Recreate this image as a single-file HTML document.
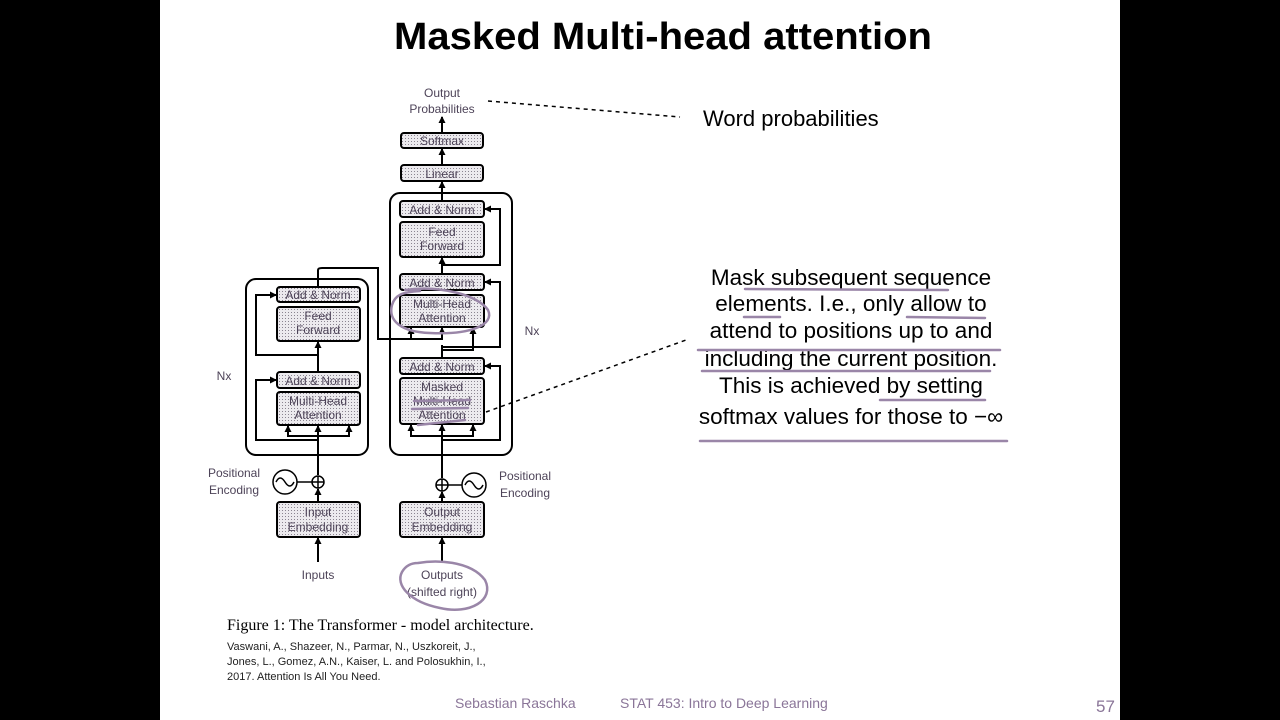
<!DOCTYPE html>
<html><head><meta charset="utf-8"><style>
html,body{margin:0;padding:0;background:#000;}
#s{position:absolute;left:160px;top:0;width:960px;height:720px;background:#fff;}
svg{position:absolute;left:0;top:0}
</style></head><body>
<div id="s"></div>
<svg width="1280" height="720" viewBox="0 0 1280 720" font-family="Liberation Sans, sans-serif">
<defs>
<pattern id="d" width="3" height="3" patternUnits="userSpaceOnUse"><rect width="3" height="3" fill="#eceaee"/><rect width="1" height="1" fill="#8a8490"/></pattern>
<marker id="a" markerUnits="userSpaceOnUse" markerWidth="7" markerHeight="7" refX="6" refY="3.5" orient="auto"><path d="M0,0 L7,3.5 L0,7 z" fill="#000"/></marker>
</defs>
<text x="663" y="49" font-size="38" font-weight="bold" text-anchor="middle" fill="#000" textLength="538" lengthAdjust="spacingAndGlyphs">Masked Multi-head attention</text>
<g fill="none" stroke="#000" stroke-width="2">
<rect x="246" y="279" width="122" height="176" rx="10"/>
<rect x="390" y="193" width="122" height="262" rx="10"/>
</g>
<g fill="url(#d)" stroke="#000" stroke-width="2">
<rect x="401" y="133" width="82" height="15" rx="3"/>
<rect x="401" y="165" width="82" height="16" rx="3"/>
<rect x="400" y="201" width="84" height="16" rx="3"/>
<rect x="400" y="222" width="84" height="35" rx="3"/>
<rect x="400" y="274" width="84" height="16" rx="3"/>
<rect x="400" y="295" width="84" height="32" rx="3"/>
<rect x="400" y="358" width="84" height="16" rx="3"/>
<rect x="400" y="378" width="84" height="46" rx="3"/>
<rect x="400" y="502" width="84" height="35" rx="3"/>
<rect x="277" y="287" width="83" height="15" rx="3"/>
<rect x="277" y="307" width="83" height="34" rx="3"/>
<rect x="277" y="372" width="83" height="16" rx="3"/>
<rect x="277" y="392" width="83" height="33" rx="3"/>
<rect x="277" y="502" width="83" height="35" rx="3"/>
</g>
<g fill="none" stroke="#000" stroke-width="2" marker-end="url(#a)">
<line x1="442" y1="132" x2="442" y2="117"/>
<line x1="442" y1="164" x2="442" y2="149"/>
<line x1="442" y1="200" x2="442" y2="182"/>
<line x1="442" y1="273" x2="442" y2="258"/>
<line x1="442" y1="501" x2="442" y2="492"/>
<line x1="442" y1="562" x2="442" y2="538"/>
<line x1="442" y1="478" x2="442" y2="425"/>
<line x1="318" y1="562" x2="318" y2="538"/>
<line x1="318" y1="501" x2="318" y2="489"/>
<line x1="318" y1="475" x2="318" y2="426"/>
<line x1="318" y1="371" x2="318" y2="342"/>
<path d="M318 440 H256 V380 H276"/>
<path d="M318 355 H256 V295 H276"/>
<path d="M442 440 H500 V366 H485"/>
<path d="M442 265 H500 V209 H485"/>
<path d="M442 347 H500 V282 H485"/>
<path d="M318 286 V270 Q318 268 322 268 H378 V339 H442 V328"/>
<path d="M411 339 V328"/>
<path d="M442 350 H473 V328"/>
<path d="M318 436 H288 V426"/><path d="M318 436 H349 V426"/>
<path d="M442 436 H411 V425"/><path d="M442 436 H473 V425"/>
</g>
<line x1="442" y1="357" x2="442" y2="345" stroke="#000" stroke-width="2"/>
<g fill="#fff" stroke="#000" stroke-width="1.5">
<circle cx="442" cy="485" r="6"/><circle cx="318" cy="482" r="6"/>
<circle cx="474" cy="485" r="12"/><circle cx="285" cy="482" r="12"/>
</g>
<g stroke="#000" stroke-width="1.5" fill="none">
<path d="M436 485H448M442 479V491M312 482H324M318 476V488M448 485H462M297 482H312"/>
<path d="M465 485 Q469 477 474 485 T483 485"/><path d="M276 482 Q280 474 285 482 T294 482"/>
</g>
<g fill="#4d4358" font-size="12" text-anchor="middle">
<text x="442" y="97">Output</text><text x="442" y="113">Probabilities</text>
<text x="442" y="145">Softmax</text><text x="442" y="178">Linear</text>
<text x="442" y="214">Add &amp; Norm</text>
<text x="442" y="236">Feed</text><text x="442" y="250">Forward</text>
<text x="442" y="287">Add &amp; Norm</text>
<text x="442" y="308">Multi-Head</text><text x="442" y="322">Attention</text>
<text x="442" y="371">Add &amp; Norm</text>
<text x="442" y="391">Masked</text><text x="442" y="405">Multi-Head</text><text x="442" y="419">Attention</text>
<text x="442" y="516">Output</text><text x="442" y="531">Embedding</text>
<text x="318" y="299">Add &amp; Norm</text>
<text x="318" y="320">Feed</text><text x="318" y="334">Forward</text>
<text x="318" y="385">Add &amp; Norm</text>
<text x="318" y="405">Multi-Head</text><text x="318" y="419">Attention</text>
<text x="318" y="516">Input</text><text x="318" y="531">Embedding</text>
<text x="318" y="579">Inputs</text>
<text x="442" y="579">Outputs</text><text x="442" y="596">(shifted right)</text>
<text x="234" y="477">Positional</text><text x="234" y="494">Encoding</text>
<text x="525" y="480">Positional</text><text x="525" y="497">Encoding</text>
<text x="224" y="380">Nx</text><text x="532" y="335">Nx</text>
</g>
<g stroke="#000" stroke-width="1.5" stroke-dasharray="4,4" fill="none">
<line x1="488" y1="101" x2="680" y2="117"/>
<line x1="486" y1="412" x2="686" y2="340"/>
</g>
<text x="703" y="126" font-size="22" fill="#000">Word probabilities</text>
<g font-size="22.5" fill="#000" text-anchor="middle">
<text x="851" y="285">Mask subsequent sequence</text>
<text x="851" y="311">elements. I.e., only allow to</text>
<text x="851" y="338">attend to positions up to and</text>
<text x="851" y="366">including the current position.</text>
<text x="851" y="393">This is achieved by setting</text>
<text x="851" y="424">softmax values for those to −∞</text>
</g>
<g stroke="#9a86a8" stroke-width="2.5" fill="none" stroke-linecap="round">
<line x1="745" y1="289" x2="948" y2="290"/>
<line x1="744" y1="317" x2="780" y2="317"/><line x1="907" y1="317" x2="985" y2="318"/>
<line x1="698" y1="350" x2="1000" y2="350"/>
<line x1="702" y1="371" x2="990" y2="371"/>
<line x1="880" y1="400" x2="985" y2="400"/>
<line x1="700" y1="441" x2="1007" y2="441"/>
<line x1="414" y1="401" x2="470" y2="400"/><line x1="412" y1="409" x2="468" y2="408"/><line x1="418" y1="425" x2="465" y2="420"/>
<path d="M405 290 C440 285 478 295 488 310 C495 325 470 335 430 333 C400 332 388 320 392 305 C395 295 402 292 420 291"/>
<path d="M418 563 C435 560 470 560 485 580 C495 600 470 615 440 608 C410 602 395 585 402 572 C406 565 412 563 418 563"/>
</g>
<text x="227" y="630" font-family="Liberation Serif, serif" font-size="16" fill="#000">Figure 1: The Transformer - model architecture.</text>
<g font-size="11" fill="#222">
<text x="227" y="650">Vaswani, A., Shazeer, N., Parmar, N., Uszkoreit, J.,</text>
<text x="227" y="665">Jones, L., Gomez, A.N., Kaiser, L. and Polosukhin, I.,</text>
<text x="227" y="680">2017. Attention Is All You Need.</text>
</g>
<g fill="#8a7598" font-size="14">
<text x="455" y="708">Sebastian Raschka</text>
<text x="620" y="708">STAT 453: Intro to Deep Learning</text>
<text x="1096" y="712" font-size="17">57</text>
</g>
</svg>
</body></html>
